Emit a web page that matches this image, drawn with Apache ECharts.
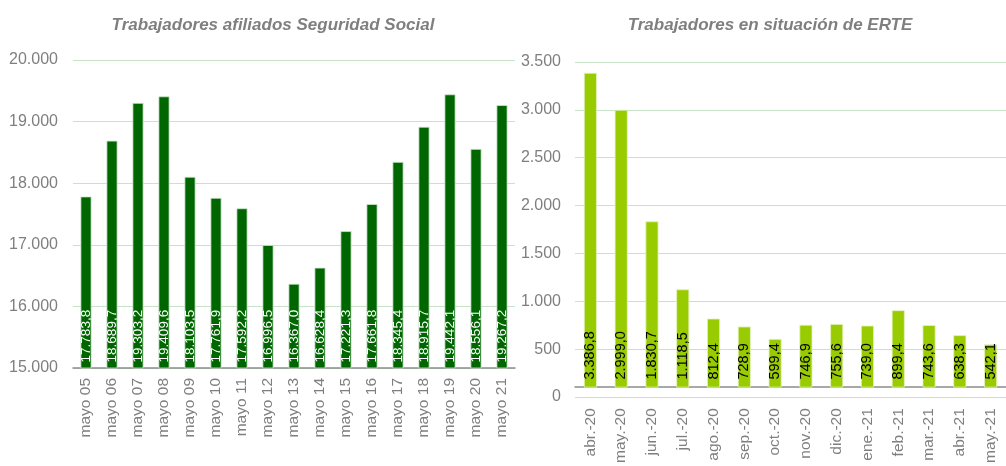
<!DOCTYPE html>
<html>
<head>
<meta charset="utf-8">
<script src="https://cdn.jsdelivr.net/npm/echarts@6/dist/echarts.min.js"></script>
<style>
  html, body { margin: 0; padding: 0; background: #fff; }
  #main { width: 1006px; height: 466px; }
</style>
</head>
<body>
<div id="main"></div>
<script>
const afiliadosCats = ['mayo 05', 'mayo 06', 'mayo 07', 'mayo 08', 'mayo 09', 'mayo 10', 'mayo 11', 'mayo 12', 'mayo 13',
  'mayo 14', 'mayo 15', 'mayo 16', 'mayo 17', 'mayo 18', 'mayo 19', 'mayo 20', 'mayo 21'];
const afiliadosVals = [17783.8, 18689.7, 19303.2, 19409.6, 18103.5, 17761.9, 17592.2, 16996.5, 16367.0,
  16628.4, 17221.3, 17661.8, 18345.4, 18915.7, 19442.1, 18556.1, 19267.2];
const erteCats = ['abr.-20', 'may.-20', 'jun.-20', 'jul.-20', 'ago.-20', 'sep.-20', 'oct.-20', 'nov.-20', 'dic.-20',
  'ene.-21', 'feb.-21', 'mar.-21', 'abr.-21', 'may.-21'];
const erteVals = [3386.8, 2999.0, 1830.7, 1118.5, 812.4, 728.9, 599.4, 746.9, 755.6, 739.0, 899.4, 743.6, 638.3, 542.1];

// formato español: 17.783,8
function fmt(v, dec) {
  let s = v.toFixed(dec);
  let [ent, fr] = s.split('.');
  ent = ent.replace(/\B(?=(\d{3})+(?!\d))/g, '.');
  return fr ? ent + ',' + fr : ent;
}

const gris = '#7f7f7f';
const gridCol = '#c8e3c8';
const font = 'Liberation Sans, Arial, sans-serif';

let myChart = echarts.init(document.getElementById('main'));
let option = {
  animation: false,
  textStyle: { fontFamily: font },
  title: [
    {
      text: 'Trabajadores afiliados Seguridad Social',
      left: 268, top: 12, textAlign: 'center',
      textStyle: { fontSize: 17, fontWeight: 'bold', fontStyle: 'italic', color: gris, fontFamily: font }
    },
    {
      text: 'Trabajadores en situación de ERTE',
      left: 765, top: 12, textAlign: 'center',
      textStyle: { fontSize: 17, fontWeight: 'bold', fontStyle: 'italic', color: gris, fontFamily: font }
    }
  ],
  grid: [
    { left: 73, width: 442, top: 60, bottom: 98 },   // afiliados
    { left: 575, width: 442, top: 62, bottom: 78 },  // ERTE barras (recortadas en el eje)
    { left: 575, width: 442, top: 62, bottom: 69 }   // ERTE escala 0 - 3.500
  ],
  xAxis: [
    {
      type: 'category', gridIndex: 0, data: afiliadosCats,
      axisLine: { lineStyle: { color: '#8c8c8c', width: 1.5 } },
      axisTick: { show: false },
      axisLabel: { rotate: 90, color: gris, fontSize: 15.5, margin: 10, interval: 0 }
    },
    {
      type: 'category', gridIndex: 1, data: erteCats,
      axisLine: { lineStyle: { color: '#8c8c8c', width: 1.5 } },
      axisTick: { show: false },
      axisLabel: { rotate: 90, color: gris, fontSize: 15.5, margin: 21, interval: 0 }
    },
    {
      type: 'category', gridIndex: 2, data: erteCats, show: false
    }
  ],
  yAxis: [
    {
      type: 'value', gridIndex: 0, min: 15000, max: 20000, interval: 1000,
      axisLine: { show: false }, axisTick: { show: false },
      splitLine: { lineStyle: { color: gridCol } },
      axisLabel: { color: gris, fontSize: 16, margin: 15, formatter: v => fmt(v, 0) }
    },
    {
      type: 'value', gridIndex: 1, min: 94, max: 3500, show: false,
      splitLine: { show: false }
    },
    {
      type: 'value', gridIndex: 2, min: 0, max: 3500, interval: 500,
      axisLine: { show: false }, axisTick: { show: false },
      splitLine: { lineStyle: { color: gridCol } },
      axisLabel: { color: gris, fontSize: 16, margin: 14, formatter: v => fmt(v, 0) }
    }
  ],
  series: [
    {
      name: 'Afiliados', type: 'bar', xAxisIndex: 0, yAxisIndex: 0,
      data: afiliadosVals, barWidth: 11,
      itemStyle: { color: '#006600', borderColor: '#cfe6cf', borderWidth: 0.8 },
      label: {
        show: true, position: 'insideBottom', rotate: 90, align: 'left', verticalAlign: 'middle',
        distance: 6, color: '#fff', fontSize: 13.5,
        formatter: p => fmt(p.value, 1)
      }
    },
    {
      name: 'ERTE', type: 'bar', xAxisIndex: 1, yAxisIndex: 1,
      data: erteVals, barWidth: 13, clip: true,
      itemStyle: { color: '#99cc00', borderColor: '#e4f2c0', borderWidth: 0.8 },
      label: {
        show: true, position: 'insideBottom', rotate: 90, align: 'left', verticalAlign: 'middle',
        distance: 8, color: '#000', fontSize: 14.5,
        formatter: p => fmt(p.value, 1)
      }
    }
  ]
};
myChart.setOption(option);
</script>
</body>
</html>
